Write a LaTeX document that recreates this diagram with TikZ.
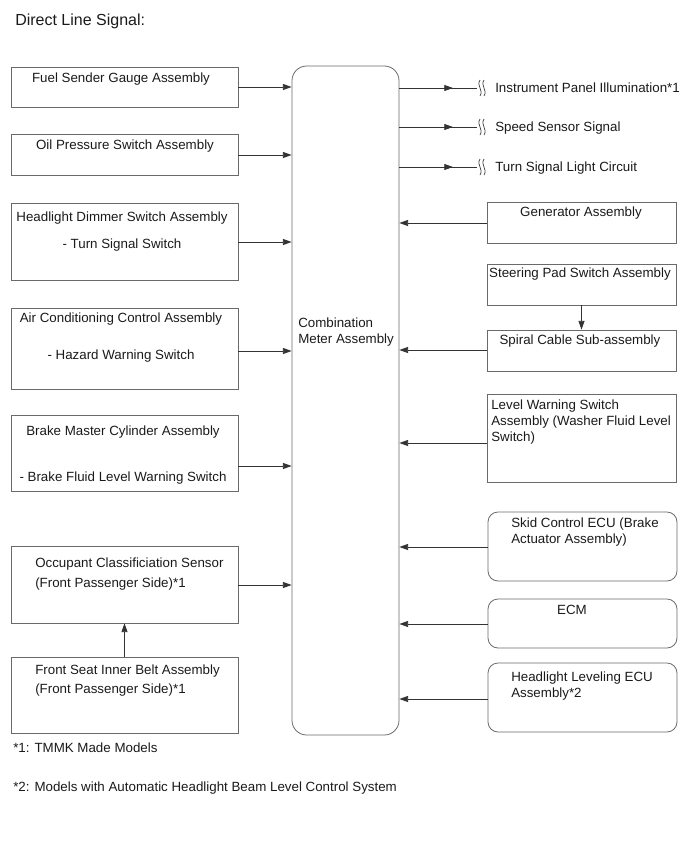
\documentclass[tikz,border=0pt]{standalone}
\usepackage{fontspec}
\setmainfont{Liberation Sans}
\usetikzlibrary{arrows.meta,positioning,fit,calc,decorations.markings}
\definecolor{ink}{HTML}{1A1A1A}
\definecolor{wire}{HTML}{333333}
\definecolor{frame}{HTML}{6A6A6A}
\tikzset{
  blk/.style={draw=frame,line width=0.6pt,inner sep=0pt},
  rblk/.style={blk,rounded corners=7.5pt},
  txt/.style={font=\fontsize{10}{12}\selectfont,text=ink,inner sep=0pt,anchor=north},
  ctxt/.style={txt,align=center},
  ltxt/.style={txt,anchor=north west,align=left},
  arr/.style={-{Triangle[length=6.5pt,width=4.5pt]},line width=0.6pt,draw=wire},
  outarr/.style={draw=wire,line width=0.6pt,postaction={decorate},
    decoration={markings,mark=at position 0.69 with {\arrow{Triangle[length=6.5pt,width=4.5pt]}}}},
  brk/.pic={
    \draw[wire,line width=0.5pt] (3,-8) .. controls (-1,-2) and (7,2) .. (3,8);
    \draw[wire,line width=0.5pt] (7,-8) .. controls (3,-2) and (11,2) .. (7,8);
  },
}

\begin{document}
\begin{tikzpicture}[x=0.75pt,y=-0.75pt]
  \useasboundingbox (0,0) rectangle (690,854);
  \node[txt,anchor=north west,font=\fontsize{12}{14}\selectfont] (title) at (15,14) {Direct Line Signal:};

  \node[rblk,rounded corners=11pt,fit={(292,66) (399,735)}] (cmb) {};
  \node[ltxt] (cmb-t) at (298,318) {Combination\\Meter Assembly};

  \node[blk,fit={(11,67) (238,107)}] (fuel) {};
  \node[ctxt] (fuel-t) at (121,73) {Fuel Sender Gauge Assembly};
  \node[blk,fit={(11,134) (238,175)}] (oil) {};
  \node[ctxt] (oil-t) at (125,140) {Oil Pressure Switch Assembly};
  \node[blk,fit={(11,203) (238,280)}] (hdl) {};
  \node[ctxt] (hdl-t) at (122,212) {Headlight Dimmer Switch Assembly\\[8pt]- Turn Signal Switch};
  \node[blk,fit={(11,308) (238,389)}] (ac) {};
  \node[ctxt] (ac-t) at (121,313) {Air Conditioning Control Assembly\\[15.5pt]- Hazard Warning Switch};
  \node[blk,fit={(11,415) (238,491)}] (brake) {};
  \node[ctxt] (brake-t) at (123,426) {Brake Master Cylinder Assembly\\[22.5pt]- Brake Fluid Level Warning Switch};
  \node[blk,fit={(11,546) (238,623)}] (occ) {};
  \node[ltxt] (occ-t) at (35,558) {Occupant Classificiation Sensor\\[3pt](Front Passenger Side)*1};
  \node[blk,fit={(11,657) (238,733)}] (seat) {};
  \node[ltxt] (seat-t) at (35,665) {Front Seat Inner Belt Assembly\\[2pt](Front Passenger Side)*1};

  \node[blk,fit={(487,202) (676,243)}] (gen) {};
  \node[ctxt] (gen-t) at (581,207) {Generator Assembly};
  \node[blk,fit={(487,264) (676,305)}] (steer) {};
  \node[ctxt] (steer-t) at (580,268) {Steering Pad Switch Assembly};
  \node[blk,fit={(487,330) (676,371)}] (spiral) {};
  \node[ctxt] (spiral-t) at (580,335) {Spiral Cable Sub-assembly};
  \node[blk,fit={(487,394) (676,482)}] (lvl) {};
  \node[ltxt] (lvl-t) at (491,400) {Level Warning Switch\\Assembly (Washer Fluid Level\\Switch)};
  \node[rblk,fit={(488,512) (677,581)}] (skid) {};
  \node[ltxt] (skid-t) at (511,518) {Skid Control ECU (Brake\\Actuator Assembly)};
  \node[rblk,fit={(488,599) (677,648)}] (ecm) {};
  \node[ctxt] (ecm-t) at (572,605) {ECM};
  \node[rblk,fit={(488,663) (677,732)}] (hll) {};
  \node[ltxt] (hll-t) at (511,672) {Headlight Leveling ECU\\Assembly*2};

  \coordinate (illum) at (477,88);
  \coordinate (speed) at (477,127);
  \coordinate (turn) at (477,167);
  \node[ltxt] (illum-t) at (495,83) {Instrument Panel Illumination*1};
  \node[ltxt] (speed-t) at (495,122) {Speed Sensor Signal};
  \node[ltxt] (turn-t) at (495,162) {Turn Signal Light Circuit};

  \draw[outarr] (cmb.east |- illum) -- (illum);
  \draw[outarr] (cmb.east |- speed) -- (speed);
  \draw[outarr] (cmb.east |- turn) -- (turn);
  \pic at (illum) {brk};
  \pic at (speed) {brk};
  \pic at (turn) {brk};

  \draw[arr] (fuel.east |- 0,87) -- (cmb.west |- 0,87);
  \draw[arr] (oil.east |- 0,155) -- (cmb.west |- 0,155);
  \draw[arr] (hdl.east |- 0,242) -- (cmb.west |- 0,242);
  \draw[arr] (ac.east |- 0,351) -- (cmb.west |- 0,351);
  \draw[arr] (brake.east |- 0,466) -- (cmb.west |- 0,466);
  \draw[arr] (occ.east |- 0,585) -- (cmb.west |- 0,585);
  \draw[arr] (seat) -- (occ);

  \draw[arr] (gen.west |- 0,223) -- (cmb.east |- 0,223);
  \draw[arr] (steer) -- (spiral);
  \draw[arr] (spiral.west |- 0,350) -- (cmb.east |- 0,350);
  \draw[arr] (lvl.west |- 0,443) -- (cmb.east |- 0,443);
  \draw[arr] (skid.west |- 0,547) -- (cmb.east |- 0,547);
  \draw[arr] (ecm.west |- 0,624) -- (cmb.east |- 0,624);
  \draw[arr] (hll.west |- 0,699) -- (cmb.east |- 0,699);

  \node[ltxt] (note1) at (13,743) {*1: TMMK Made Models};
  \node[ltxt] (note2) at (13,782) {*2: Models with Automatic Headlight Beam Level Control System};
\end{tikzpicture}
\end{document}
